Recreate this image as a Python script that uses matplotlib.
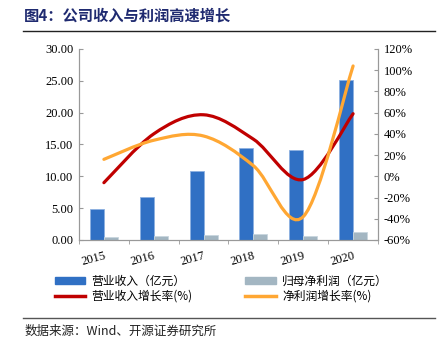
import matplotlib
matplotlib.use("Agg")
import matplotlib.pyplot as plt
from matplotlib.path import Path
from matplotlib.patches import PathPatch
from matplotlib.lines import Line2D
from matplotlib.patches import Patch
import numpy as np

plt.rcParams['font.family'] = ['Noto Sans CJK SC', 'DejaVu Sans']

# data
years = ['2015', '2016', '2017', '2018', '2019', '2020']
revenue = [4.8, 6.8, 10.8, 14.5, 14.2, 25.1]          # 营业收入（亿元）
net_profit = [0.45, 0.65, 0.85, 0.95, 0.6, 1.25]      # 归母净利润（亿元）
rev_growth = [-6, 40, 58, 35, -3, 59]                 # 营业收入增长率(%)
np_growth = [16, 34, 38, 10, -38, 104]                # 净利润增长率(%)

blue = '#3070C4'
grey = '#A3B6C2'
red = '#C00000'
orange = '#FFA733'
serif = 'Liberation Serif'


def smooth_path(xs, ys):
    # Catmull-Rom style smoothing, like the "smoothed line" option in Excel
    p = np.column_stack([xs, ys]).astype(float)
    ext = np.vstack([p[0], p, p[-1]])
    verts = [p[0]]
    codes = [Path.MOVETO]
    for i in range(len(p) - 1):
        p0, p1, p2, p3 = ext[i], ext[i + 1], ext[i + 2], ext[i + 3]
        c1 = p1 + (p2 - p0) / 6
        c2 = p2 - (p3 - p1) / 6
        verts += [c1, c2, p2]
        codes += [Path.CURVE4] * 3
    return Path(verts, codes)


fig = plt.figure(figsize=(4.43, 3.47), dpi=100)
ax = fig.add_axes([0.1783, 0.3084, 0.675, 0.5504])
ax2 = ax.twinx()

x = np.arange(len(years))
w = 0.28
ax.bar(x - w / 2, revenue, w, color=blue, edgecolor='#8DB0E0', linewidth=0.6)
ax.bar(x + w / 2, net_profit, w, color=grey, edgecolor='#C8D6DE', linewidth=0.6)

ax.set_xlim(-0.5, len(years) - 0.5)
ax.set_ylim(0, 30)
ax.set_yticks(np.arange(0, 31, 5))
ax.set_yticklabels(['%.2f' % v for v in np.arange(0, 31, 5)], family=serif, fontsize=9)
ax.set_xticks(x)
ax.set_xticklabels(years, family=serif, fontsize=9, rotation=15, ha='right',
                   rotation_mode='anchor')
ax.set_xticks(np.arange(-0.5, len(years), 1), minor=True)
ax.tick_params(axis='x', which='major', length=0, pad=7)
ax.tick_params(axis='x', which='minor', length=3, direction='out', color='#999999')
ax.tick_params(axis='y', length=3, direction='in', color='#999999', pad=4)

for a in (ax, ax2):
    a.spines['top'].set_visible(False)
    for s in ('left', 'right', 'bottom'):
        a.spines[s].set_color('#999999')
        a.spines[s].set_linewidth(0.8)

ax2.set_ylim(-60, 120)
ax2.set_yticks(np.arange(-60, 121, 20))
ax2.set_yticklabels(['%d%%' % v for v in np.arange(-60, 121, 20)], family=serif, fontsize=9)
ax2.tick_params(axis='y', length=3, direction='in', color='#999999', pad=4)

ax2.add_patch(PathPatch(smooth_path(x, rev_growth), facecolor='none',
                        edgecolor=red, linewidth=2.3, capstyle='round'))
ax2.add_patch(PathPatch(smooth_path(x, np_growth), facecolor='none',
                        edgecolor=orange, linewidth=2.3, capstyle='round'))

handles = [Patch(color=blue), Patch(color=grey),
           Line2D([], [], color=red, lw=2.5), Line2D([], [], color=orange, lw=2.5)]
labels = ['营业收入（亿元）', '归母净利润（亿元）', '营业收入增长率(%)', '净利润增长率(%)']
fig.legend([handles[0], handles[2], handles[1], handles[3]],
           [labels[0], labels[2], labels[1], labels[3]],
           ncol=2, loc='upper left', bbox_to_anchor=(0.11, 0.226),
           frameon=False, fontsize=8.5, handlelength=2.6, handleheight=0.5,
           columnspacing=4.5, labelspacing=0.2, handletextpad=0.5, borderpad=0)

fig.text(0.055, 0.955, '图4：公司收入与利润高速增长', fontsize=11, fontweight='bold',
         color='#1F2A70', va='center')
fig.add_artist(Line2D([0.052, 0.982], [0.912, 0.912], color='#222222', lw=1.0))
fig.add_artist(Line2D([0.052, 0.982], [0.085, 0.085], color='#555555', lw=1.0))
fig.text(0.055, 0.045, '数据来源：Wind、开源证券研究所', fontsize=9, color='#222222',
         va='center')

fig.savefig('out.png', dpi=100)
